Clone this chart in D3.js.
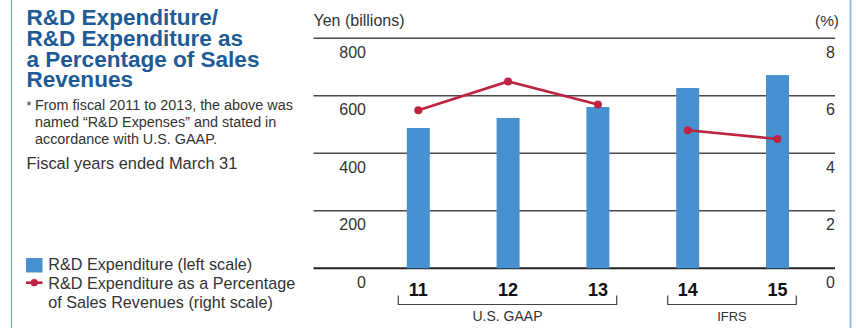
<!DOCTYPE html>
<html>
<head>
<meta charset="utf-8">
<script src="https://cdn.jsdelivr.net/npm/d3@7/dist/d3.min.js"></script>
<style>
  html, body { margin: 0; padding: 0; background: #fff; }
  svg { display: block; font-family: "Liberation Sans", Arial, Helvetica, sans-serif; }
</style>
</head>
<body>
<svg id="chart" width="856" height="328"></svg>
<script>
// Fiscal years (ended March 31)
const years = ["11", "12", "13", "14", "15"];
// R&D expenditure, yen (billions) — left scale
const expenditure = [488, 523, 561, 627, 672];
// R&D expenditure as a percentage of sales revenues — right scale
const percentage = [5.5, 6.5, 5.7, 4.8, 4.5];
// Accounting standard for each year
const standards = ["U.S. GAAP", "U.S. GAAP", "U.S. GAAP", "IFRS", "IFRS"];
// Axis ticks
const leftTicks = [0, 200, 400, 600, 800];
const rightTicks = [0, 2, 4, 6, 8];

const BLUE = "#4891d1";
const RED = "#be2340";
const TITLE = "#1c5a98";
const TEXT = "#333";

const svg = d3.select("#chart");

// Side borders
svg.append("line").attr("x1", 11.5).attr("x2", 11.5).attr("y1", 0).attr("y2", 328)
  .attr("stroke", "#6fa6d8").attr("stroke-width", 1.2);
svg.append("line").attr("x1", 850.5).attr("x2", 850.5).attr("y1", 0).attr("y2", 328)
  .attr("stroke", "#8fbde8").attr("stroke-width", 2);

// Scales
const plotLeft = 313.5, plotRight = 835;
const y = d3.scaleLinear().domain([0, 800]).range([268.3, 38.3]);
const yPct = d3.scaleLinear().domain([0, 8]).range([268.3, 38.3]);
const x = d3.scaleBand().domain(years).range([373.4, 822.4])
  .paddingInner(0.744).paddingOuter(0.372);

// Fit a text element to a target width by adjusting its font size
function fit(sel, width) {
  sel.each(function () {
    const w = this.getComputedTextLength();
    const fs = parseFloat(d3.select(this).attr("font-size"));
    if (w > 0) d3.select(this).attr("font-size", (fs * width / w).toFixed(2));
  });
}

// Gridlines
svg.append("g").selectAll("line").data(leftTicks).join("line")
  .attr("x1", plotLeft).attr("x2", plotRight)
  .attr("y1", d => y(d)).attr("y2", d => y(d))
  .attr("stroke", d => d === 0 ? "#222" : "#4a4a4a")
  .attr("stroke-width", d => d === 0 ? 2 : 1.4);

// Left axis labels (below each gridline)
svg.append("g").selectAll("text").data(leftTicks).join("text")
  .attr("x", 366).attr("y", d => y(d) + 19.3)
  .attr("text-anchor", "end").attr("font-size", 16).attr("fill", TEXT)
  .text(d => d);

// Right axis labels
svg.append("g").selectAll("text").data(rightTicks).join("text")
  .attr("x", 835).attr("y", d => yPct(d) + 19.3)
  .attr("text-anchor", "end").attr("font-size", 16).attr("fill", TEXT)
  .text(d => d);

// Axis titles
const yen = svg.append("text").attr("x", 313.5).attr("y", 25.5).attr("font-size", 14)
  .attr("fill", TEXT).text("Yen (billions)");
fit(yen, 91);
const pct = svg.append("text").attr("x", 839).attr("y", 25.5).attr("font-size", 14)
  .attr("text-anchor", "end").attr("fill", TEXT).text("(%)");
fit(pct, 24);

// Bars
svg.append("g").selectAll("rect").data(years).join("rect")
  .attr("x", d => x(d)).attr("width", x.bandwidth())
  .attr("y", (d, i) => y(expenditure[i]))
  .attr("height", (d, i) => y(0) - y(expenditure[i]))
  .attr("fill", BLUE);

// Percentage line, drawn separately for each accounting standard
const points = years.map((d, i) => ({ year: d, pct: percentage[i], std: standards[i] }));
const groups = d3.groups(points, d => d.std);
const line = d3.line().x(d => x(d.year) + x.bandwidth() / 2).y(d => yPct(d.pct));
svg.append("g").selectAll("path").data(groups).join("path")
  .attr("d", d => line(d[1]))
  .attr("fill", "none").attr("stroke", RED).attr("stroke-width", 2.6);
svg.append("g").selectAll("circle").data(points).join("circle")
  .attr("cx", d => x(d.year) + x.bandwidth() / 2).attr("cy", d => yPct(d.pct))
  .attr("r", 4).attr("fill", RED);

// Category labels
svg.append("g").selectAll("text").data(years).join("text")
  .attr("x", d => x(d) + x.bandwidth() / 2).attr("y", 295.5)
  .attr("text-anchor", "middle").attr("font-size", 18).attr("font-weight", "bold")
  .attr("fill", "#111").text(d => d);

// Brackets grouping years by accounting standard
const bracket = svg.append("g");
groups.forEach(([std, pts]) => {
  const x0 = x(pts[0].year) - 8.5;
  const x1 = x(pts[pts.length - 1].year) + x.bandwidth() + 7.3;
  bracket.append("path")
    .attr("d", `M${x0},295.5V304.5H${x1}V295.5`)
    .attr("fill", "none").attr("stroke", "#444").attr("stroke-width", 1.2);
  const t = bracket.append("text")
    .attr("x", (x0 + x1) / 2).attr("y", 320.5)
    .attr("text-anchor", "middle").attr("font-size", 12).attr("fill", TEXT)
    .text(std);
  fit(t, std === "IFRS" ? 29.5 : 70);
});

// Title block
const titleLines = ["R&D Expenditure/", "R&D Expenditure as", "a Percentage of Sales", "Revenues"];
const title = svg.append("g").selectAll("text").data(titleLines).join("text")
  .attr("x", 26.5).attr("y", (d, i) => 25 + i * 20.8)
  .attr("font-size", 19).attr("font-weight", "bold").attr("fill", TITLE)
  .text(d => d);
fit(title.filter((d, i) => i === 2), 233);
title.attr("font-size", title.filter((d, i) => i === 2).attr("font-size"));

// Footnote
svg.append("text").attr("x", 26.5).attr("y", 110).attr("font-size", 12.5)
  .attr("fill", TEXT).text("*");
const note = svg.append("g").selectAll("text")
  .data(["From fiscal 2011 to 2013, the above was", "named \u201CR&D Expenses\u201D and stated in", "accordance with U.S. GAAP."])
  .join("text")
  .attr("x", 35).attr("y", (d, i) => 110 + i * 16.8)
  .attr("font-size", 12.5).attr("fill", TEXT).text(d => d);
fit(note.filter((d, i) => i === 0), 258);
note.attr("font-size", note.filter((d, i) => i === 0).attr("font-size"));

const fy = svg.append("text").attr("x", 26.5).attr("y", 168.5).attr("font-size", 14.5)
  .attr("fill", TEXT).text("Fiscal years ended March 31");
fit(fy, 211);

// Legend
const legend = svg.append("g");
legend.append("rect").attr("x", 26).attr("y", 258).attr("width", 16.5).attr("height", 14.5)
  .attr("fill", BLUE);
legend.append("line").attr("x1", 26).attr("x2", 42.5).attr("y1", 282.7).attr("y2", 282.7)
  .attr("stroke", RED).attr("stroke-width", 2.6);
legend.append("circle").attr("cx", 34.3).attr("cy", 282.7).attr("r", 3.6).attr("fill", RED);
const legTexts = legend.selectAll("text.lt")
  .data([
    { t: "R&D Expenditure (left scale)", y: 270 },
    { t: "R&D Expenditure as a Percentage", y: 289 },
    { t: "of Sales Revenues (right scale)", y: 307.5 }
  ])
  .join("text").attr("class", "lt")
  .attr("x", 48.3).attr("y", d => d.y).attr("font-size", 14.5).attr("fill", TEXT)
  .text(d => d.t);
fit(legTexts.filter((d, i) => i === 1), 247);
legTexts.attr("font-size", legTexts.filter((d, i) => i === 1).attr("font-size"));
</script>
</body>
</html>
